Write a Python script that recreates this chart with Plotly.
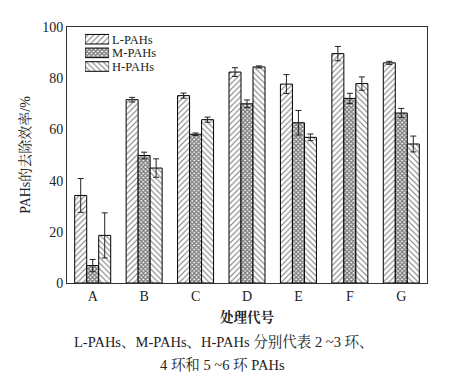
import plotly.graph_objects as go

categories = ["A", "B", "C", "D", "E", "F", "G"]
l_pahs = [34.2, 71.6, 73.2, 82.4, 77.7, 89.6, 86.0]
l_err = [6.6, 0.9, 1.0, 1.7, 3.7, 2.8, 0.6]
m_pahs = [6.8, 49.8, 58.1, 70.0, 62.6, 72.1, 66.4]
m_err = [2.4, 1.3, 0.5, 1.5, 4.8, 2.0, 1.8]
h_pahs = [18.6, 44.9, 63.8, 84.4, 56.9, 77.9, 54.3]
h_err = [8.8, 3.6, 1.0, 0.4, 1.3, 2.6, 3.1]
series_names = ["L-PAHs", "M-PAHs", "H-PAHs"]
y_ticks = [0, 20, 40, 60, 80, 100]

FONT = "Liberation Serif, Times New Roman, Noto Serif CJK SC, Noto Sans CJK SC, serif"
INK = "#222"

patterns = {
    "L-PAHs": dict(shape="/", size=4, solidity=0.28),
    "M-PAHs": dict(shape="x", size=3, solidity=0.7),
    "H-PAHs": dict(shape="\\", size=4, solidity=0.28),
}

def marker_for(name):
    p = patterns[name]
    return dict(color="white", line=dict(color="black", width=1),
                pattern=dict(shape=p["shape"], fgcolor="black", bgcolor="white",
                             size=p["size"], solidity=p["solidity"], fillmode="overlay"))

fig = go.Figure()
for name, vals, errs in zip(series_names, [l_pahs, m_pahs, h_pahs], [l_err, m_err, h_err]):
    fig.add_trace(go.Bar(
        x=categories, y=vals, name=name, marker=marker_for(name),
        error_y=dict(type="data", array=errs, visible=True, color=INK,
                     thickness=1, width=3),
        showlegend=False,
    ))

# legend key drawn as small horizontal bars on an inset axis
for name in series_names:
    fig.add_trace(go.Bar(
        x=[1], y=[name], orientation="h", marker=marker_for(name),
        xaxis="x2", yaxis="y2", showlegend=False, hoverinfo="skip", width=0.7,
    ))

tf = dict(family=FONT, size=14, color=INK)
fig.update_layout(
    width=454, height=369,
    margin=dict(l=59, r=35, t=12, b=94),
    paper_bgcolor="white", plot_bgcolor="white",
    barmode="group", bargap=0.3, bargroupgap=0,
    font=dict(family=FONT, size=13, color=INK),
    showlegend=False,
    xaxis=dict(showline=True, linecolor="#333", linewidth=1, mirror=True,
               ticks="", tickfont=tf,
               title=dict(text="<b>处理代号</b>", font=dict(family=FONT, size=13.5, color=INK),
                          standoff=9)),
    yaxis=dict(range=[0, 100], tickvals=y_ticks,
               showline=True, linecolor="#333", linewidth=1, mirror=True,
               showgrid=False, zeroline=False, ticks="",
               tickfont=tf,
               title=dict(text="PAHs的去除效率/%", font=dict(family=FONT, size=14, color=INK),
                          standoff=8)),
    xaxis2=dict(domain=[0.05, 0.117], range=[0, 1], anchor="y2",
                visible=False, fixedrange=True),
    yaxis2=dict(domain=[0.819, 0.979], anchor="x2", side="right",
                categoryorder="array", categoryarray=series_names[::-1],
                tickmode="array", tickvals=series_names, ticktext=series_names,
                showline=False, showgrid=False, zeroline=False, ticks="",
                ticklabelstandoff=2,
                tickfont=dict(family=FONT, size=12.5, color=INK), fixedrange=True),
    annotations=[
        dict(text="L-PAHs、M-PAHs、H-PAHs 分别代表 2 ~3 环、", xref="paper", yref="paper",
             x=0.436, y=-0.228, xanchor="center", yanchor="middle", showarrow=False,
             font=dict(family=FONT, size=14.5, color=INK)),
        dict(text="4 环和 5 ~6 环 PAHs", xref="paper", yref="paper",
             x=0.431, y=-0.322, xanchor="center", yanchor="middle", showarrow=False,
             font=dict(family=FONT, size=14.5, color=INK)),
    ],
)

fig.write_html("out.html")
